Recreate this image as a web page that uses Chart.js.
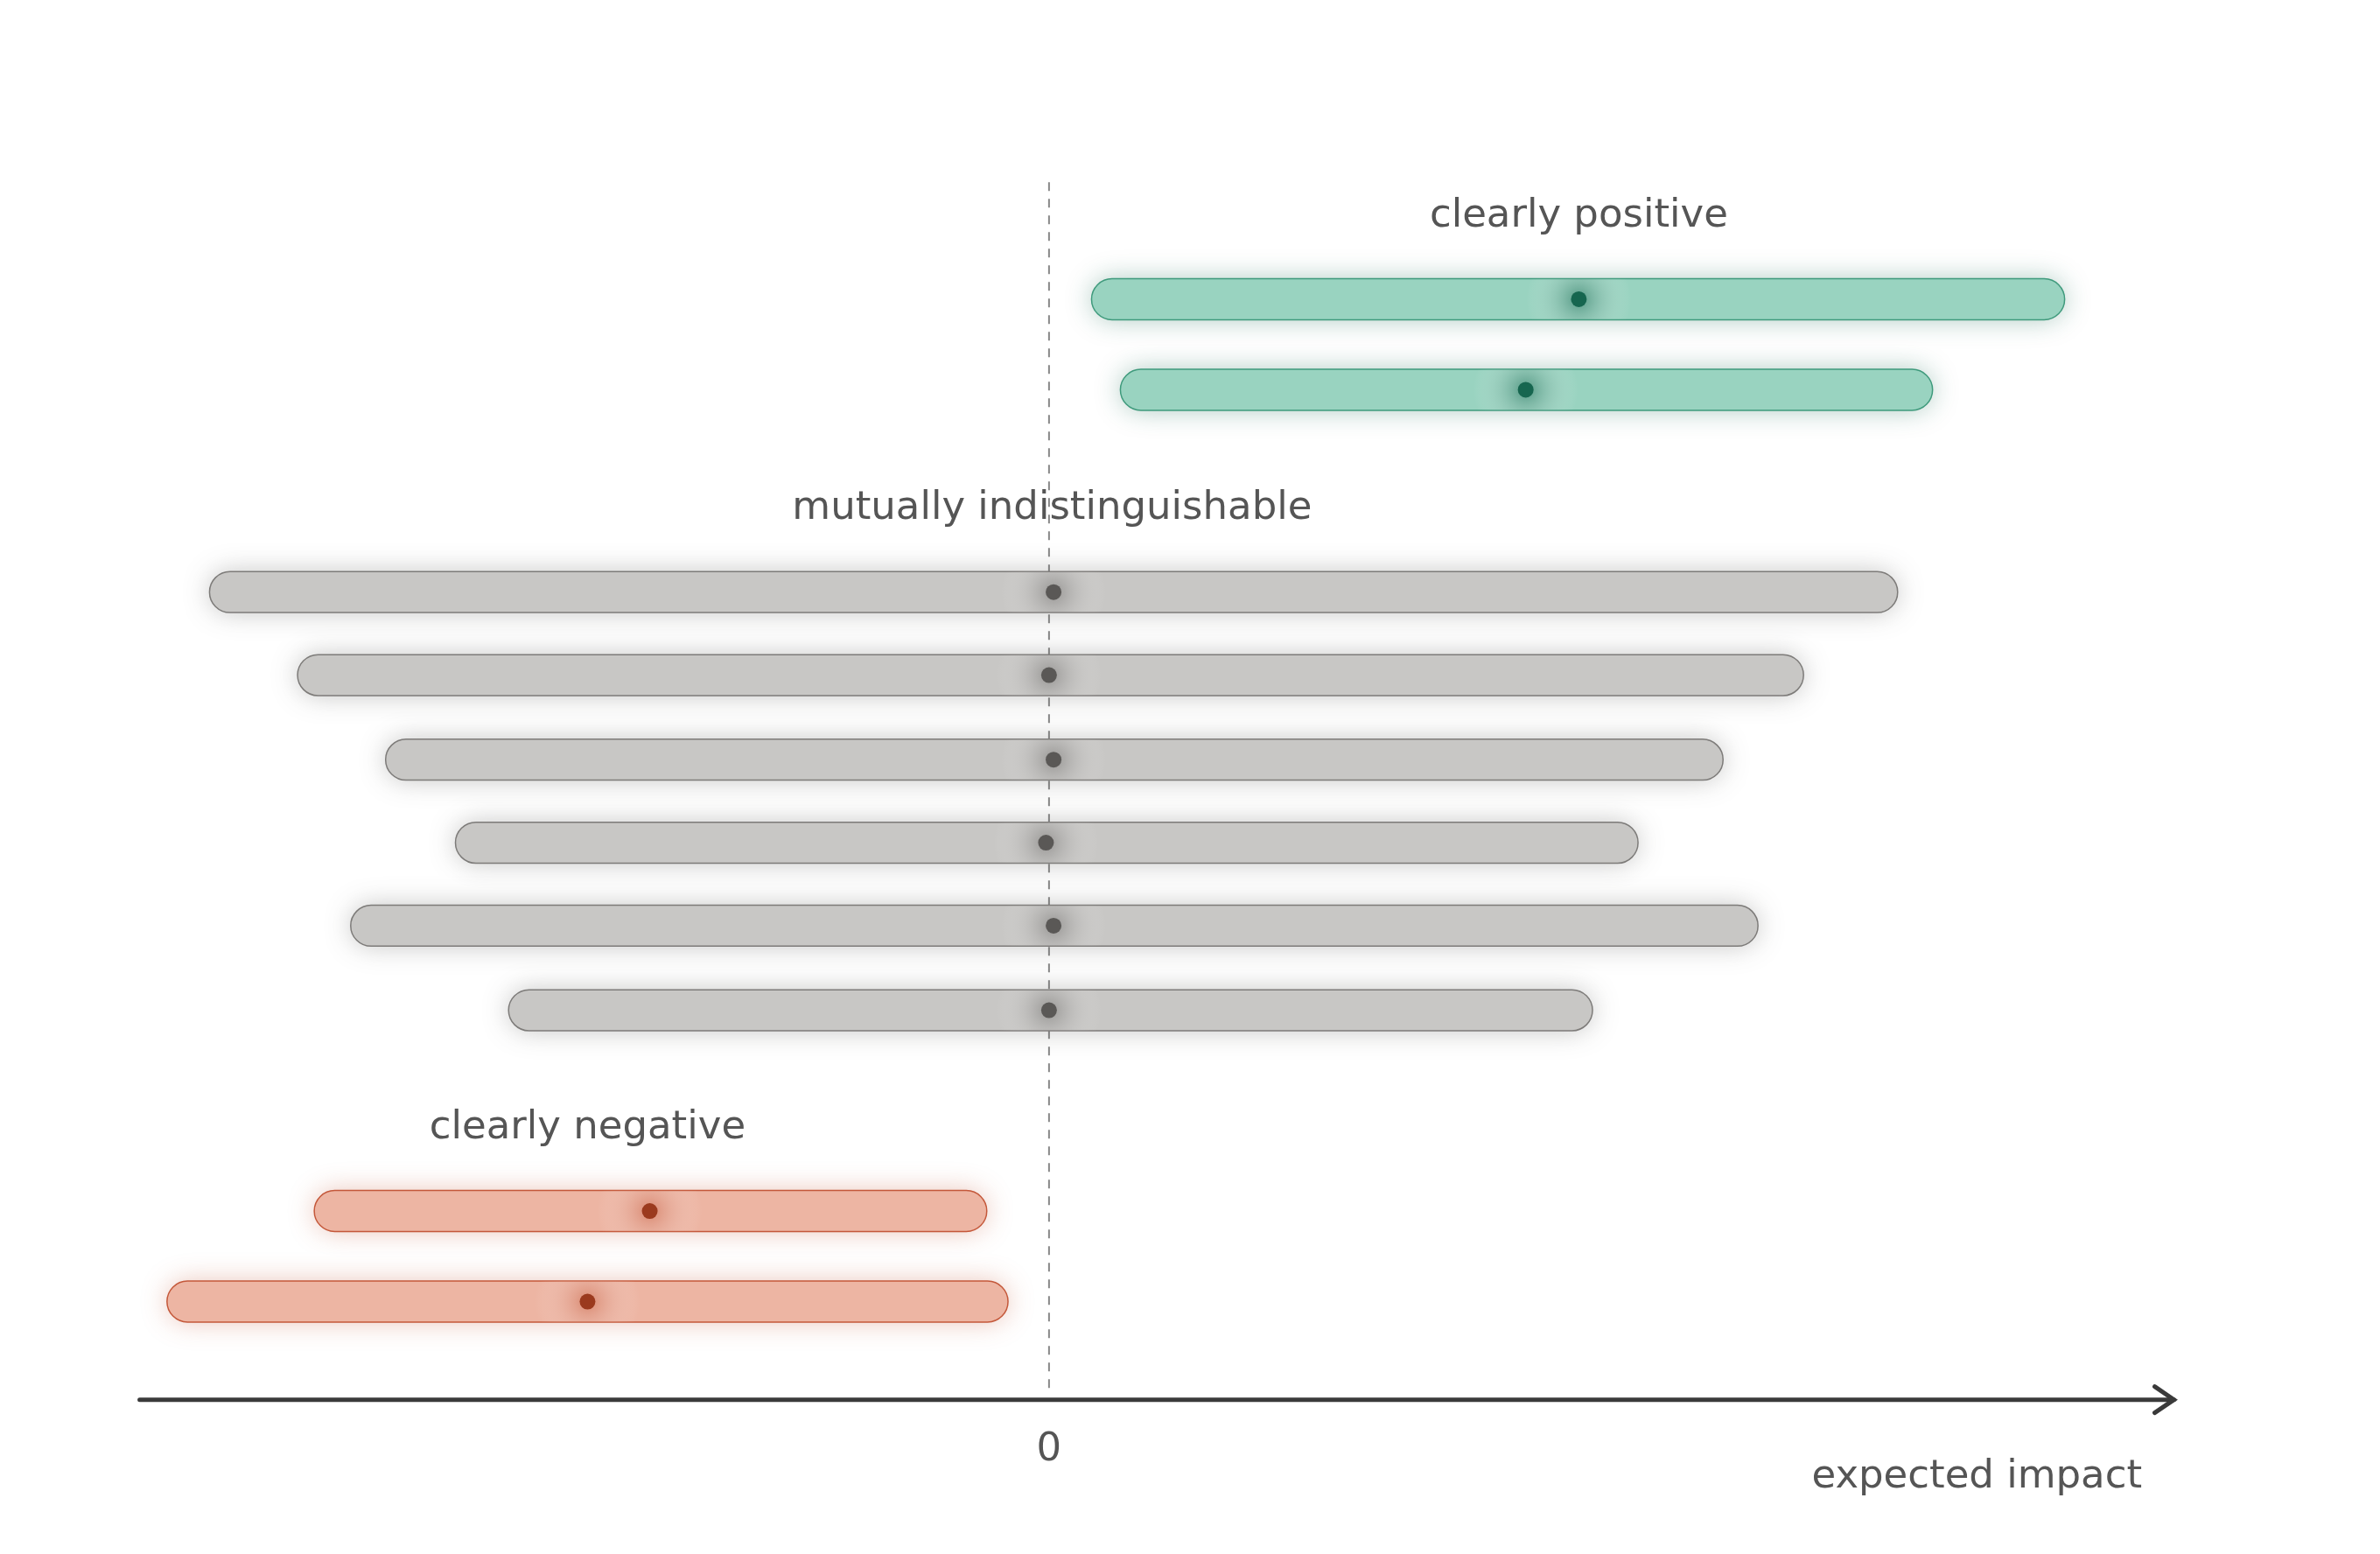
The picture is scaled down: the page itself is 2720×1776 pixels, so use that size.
<!DOCTYPE html>
<html><head><meta charset="utf-8">
<script src="https://cdn.jsdelivr.net/npm/chart.js@4"></script>
<style>html,body{margin:0;padding:0;background:#fff}#w{width:2720px;height:1776px}</style>
</head><body><div id="w"><canvas id="c"></canvas></div>
<script>
const groups = ['positive','positive','neutral','neutral','neutral','neutral','neutral','neutral','negative','negative'];
const rowPos = [19.3,25.3,38.7,44.2,49.8,55.3,60.8,66.4,79.7,85.7];
const lows =  [0.28,0.47,-5.53,-4.95,-4.37,-3.91,-4.60,-3.56,-4.84,-5.81];
const highs = [6.69,5.82,5.59,4.97,4.44,3.88,4.67,3.58,-0.41,-0.27];
const means = [3.49,3.14,0.03,0,0.03,-0.02,0.03,0,-2.63,-3.04];
const labelTexts = ['clearly positive','mutually indistinguishable','clearly negative'];
const labelX = [3.49,0.02,-3.04];
const labelY = [13.8,33.2,74.2];
const tickLabels = ['0'];
const axisTitle = 'expected impact';
const S = 1.735;
const colors = {
  positive:{fill:'#99d3c0',stroke:'#3f9a7c',dot:'#16664f',glow:'rgba(22,102,79,0.55)'},
  neutral:{fill:'#c8c7c5',stroke:'#7d7b79',dot:'#5a5856',glow:'rgba(90,88,86,0.45)'},
  negative:{fill:'#edb5a3',stroke:'#c4583a',dot:'#9b3a1e',glow:'rgba(196,88,58,0.5)'}
};
const FONT = '"DejaVu Sans", sans-serif';
const plug = {
  id:'p',
  beforeDatasetsDraw(ch){
    const ctx=ch.ctx, x=ch.scales.x, y=ch.scales.y, h=27*S;
    // dashed zero line
    ctx.save();ctx.strokeStyle='#888';ctx.lineWidth=2;ctx.setLineDash([10,9]);
    ctx.beginPath();ctx.moveTo(x.getPixelForValue(0),120*S);ctx.lineTo(x.getPixelForValue(0),915*S);ctx.stroke();ctx.restore();
    rowPos.forEach((r,i)=>{
      const c=colors[groups[i]];
      const x0=x.getPixelForValue(lows[i]), x1=x.getPixelForValue(highs[i]), yc=y.getPixelForValue(r);
      ctx.save();
      ctx.shadowColor=c.glow.replace(/[\d.]+\)$/,'0.35)');ctx.shadowBlur=30;
      ctx.beginPath();ctx.roundRect(x0,yc-h/2,x1-x0,h,h/2);
      ctx.fillStyle=c.fill;ctx.fill();
      ctx.shadowBlur=0;ctx.lineWidth=1.5;ctx.strokeStyle=c.stroke;ctx.stroke();
      // glow around mean
      const mx=x.getPixelForValue(means[i]);
      ctx.beginPath();ctx.rect(x0,yc-h/2,x1-x0,h);ctx.clip();
      const g=ctx.createRadialGradient(mx,yc,0,mx,yc,60);
      g.addColorStop(0,c.glow);g.addColorStop(1,'rgba(255,255,255,0)');
      ctx.fillStyle=g;ctx.fillRect(mx-60,yc-h/2,120,h);
      ctx.restore();
    });
  },
  afterDatasetsDraw(ch){
    const ctx=ch.ctx, x=ch.scales.x, y=ch.scales.y;
    ctx.save();
    ctx.fillStyle='#555';ctx.font='45px '+FONT;ctx.textAlign='center';ctx.textBaseline='middle';
    labelTexts.forEach((t,i)=>ctx.fillText(t,x.getPixelForValue(labelX[i]),y.getPixelForValue(labelY[i])));
    // axis arrow
    const ay=922*S, l=ch.chartArea.left, r=ch.chartArea.right;
    ctx.strokeStyle='#3a3a3a';ctx.lineWidth=5;ctx.lineCap='round';
    ctx.beginPath();ctx.moveTo(l,ay);ctx.lineTo(r,ay);ctx.stroke();
    ctx.beginPath();ctx.moveTo(r-22,ay-15);ctx.lineTo(r,ay);ctx.lineTo(r-22,ay+15);ctx.stroke();
    ctx.fillText(tickLabels[0],x.getPixelForValue(0),955*S);
    ctx.textAlign='right';ctx.fillText(axisTitle,1411*S,973*S);
    ctx.restore();
  }
};
new Chart(document.getElementById('c'),{
  type:'scatter',
  data:{datasets:[{
    data:means.map((m,i)=>({x:m,y:rowPos[i]})),
    pointRadius:9,pointHoverRadius:9,borderWidth:0,
    backgroundColor:groups.map(g=>colors[g].dot)
  }]},
  options:{
    responsive:true,maintainAspectRatio:false,animation:false,devicePixelRatio:1,
    layout:{padding:{left:92*S,right:2720-1432*S,top:0,bottom:1776-922*S}},
    plugins:{legend:{display:false},tooltip:{enabled:false}},
    scales:{
      x:{type:'linear',min:-5.99,max:7.41,display:false},
      y:{type:'linear',min:0,max:92.2,reverse:true,display:false}
    }
  },
  plugins:[plug]
});
</script></body></html>
